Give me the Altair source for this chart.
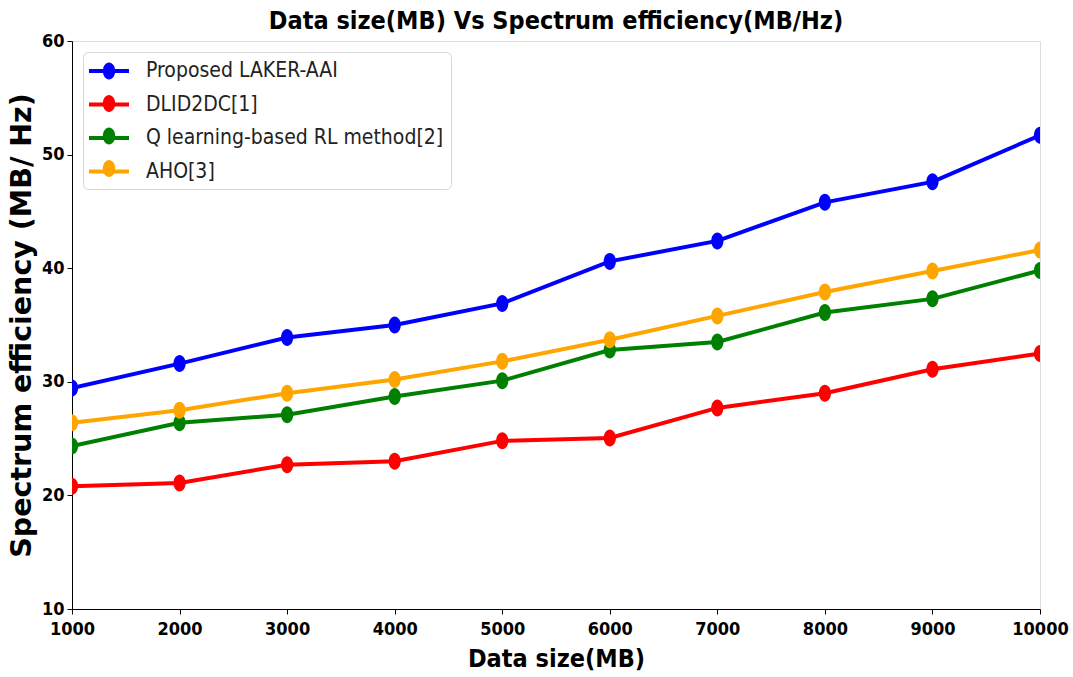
import altair as alt
import pandas as pd

data_size = [1000, 2000, 3000, 4000, 5000, 6000, 7000, 8000, 9000, 10000]
series_names = ["Proposed LAKER-AAI", "DLID2DC[1]", "Q learning-based RL method[2]", "AHO[3]"]
laker = [29.45, 31.6, 33.9, 35.0, 36.9, 40.6, 42.4, 45.8, 47.6, 51.7]
dlid2dc = [20.8, 21.1, 22.7, 23.0, 24.8, 25.05, 27.7, 29.0, 31.1, 32.5]
qlearn = [24.35, 26.4, 27.1, 28.7, 30.1, 32.8, 33.5, 36.1, 37.3, 39.8]
aho = [26.4, 27.5, 29.0, 30.2, 31.8, 33.7, 35.8, 37.9, 39.75, 41.6]
colors = ["#0000ff", "#ff0000", "#008000", "#ffa500"]
marker_keys = ["m:" + n for n in series_names]

rows = []
for name, key, vals in zip(series_names, marker_keys, [laker, dlid2dc, qlearn, aho]):
    for x, v in zip(data_size, vals):
        rows.append({"size": x, "eff": v, "series": name, "marker": key})
df = pd.DataFrame(rows)


def ellipse_path(a, b):
    k = 0.5523
    f = lambda v: f"{v:.4f}"
    return (f"M0,{f(-b)}C{f(k*a)},{f(-b)},{f(a)},{f(-k*b)},{f(a)},0"
            f"C{f(a)},{f(k*b)},{f(k*a)},{f(b)},0,{f(b)}"
            f"C{f(-k*a)},{f(b)},{f(-a)},{f(k*b)},{f(-a)},0"
            f"C{f(-a)},{f(-k*b)},{f(-k*a)},{f(-b)},0,{f(-b)}Z")


COND = "DejaVu Sans Condensed, Liberation Sans Narrow, DejaVu Sans"
ELLIPSE = ellipse_path(0.72, 1.0)
LEG_LINE = "M-2,0H2"
LEG_ELLIPSE = ellipse_path(0.62, 0.85)

xenc = alt.X("size:Q",
             scale=alt.Scale(domain=[1000, 10000], nice=False, zero=False),
             axis=alt.Axis(values=data_size, format="d", title="Data size(MB)",
                           titleFont=COND, titleFontSize=25, titleFontWeight="bold",
                           titleColor="black", titlePadding=8,
                           labelFont=COND, labelFontSize=18, labelFontWeight="bold",
                           labelColor="black", labelPadding=6, tickSize=5, labelFlush=False,
                           tickColor="black", domainColor="black", grid=False))
yenc = alt.Y("eff:Q",
             scale=alt.Scale(domain=[10, 60], nice=False, zero=False),
             axis=alt.Axis(values=[10, 20, 30, 40, 50, 60], title="Spectrum efficiency (MB/ Hz)",
                           titleFont="DejaVu Sans", titleFontSize=28.5, titleFontWeight="bold",
                           titleColor="black", titlePadding=5,
                           labelFont=COND, labelFontSize=18, labelFontWeight="bold",
                           labelColor="black", labelPadding=3, tickSize=5, labelFlush=False,
                           tickColor="black", domainColor="black", grid=False))

common_legend = dict(title=None, orient="none", legendX=11, legendY=11,
                     symbolSize=400, symbolStrokeWidth=4, symbolOffset=7,
                     labelFont=COND, labelFontSize=21, labelOffset=25, labelLimit=0,
                     padding=7)

lines = alt.Chart(df).mark_line(strokeWidth=4, clip=True).encode(
    x=xenc, y=yenc,
    color=alt.Color("series:N", scale=alt.Scale(domain=series_names, range=colors),
                    sort=series_names,
                    legend=alt.Legend(symbolType=LEG_LINE, labelColor="#222",
                                      strokeColor="#d6d6d6", cornerRadius=5,
                                      rowPadding=11.5, **common_legend)),
    detail="series:N",
)

points = alt.Chart(df).mark_point(filled=True, size=289, opacity=1, clip=True).encode(
    x=xenc, y=yenc,
    shape=alt.value(ELLIPSE),
    fill=alt.Fill("marker:N", scale=alt.Scale(domain=marker_keys, range=colors),
                  sort=marker_keys,
                  legend=alt.Legend(symbolType=LEG_ELLIPSE, symbolOpacity=1,
                                    symbolStrokeColor="transparent", labelOpacity=0,
                                    labelExpr="replace(datum.label, 'm:', '')",
                                    rowPadding=-1.5, **common_legend)),
)

chart = alt.layer(lines, points).properties(
    width=968, height=568,
    title=alt.TitleParams("Data size(MB) Vs Spectrum efficiency(MB/Hz)",
                          font=COND, fontSize=25, fontWeight="bold", color="black",
                          anchor="middle", offset=-2),
    autosize=alt.AutoSizeParams(type="none"),
    padding={"left": 72, "top": 41, "right": 33, "bottom": 68},
).configure_view(stroke="#222", strokeWidth=1).configure(background="white")

chart.save("out.html", embed_options={"renderer": "svg", "actions": False})
